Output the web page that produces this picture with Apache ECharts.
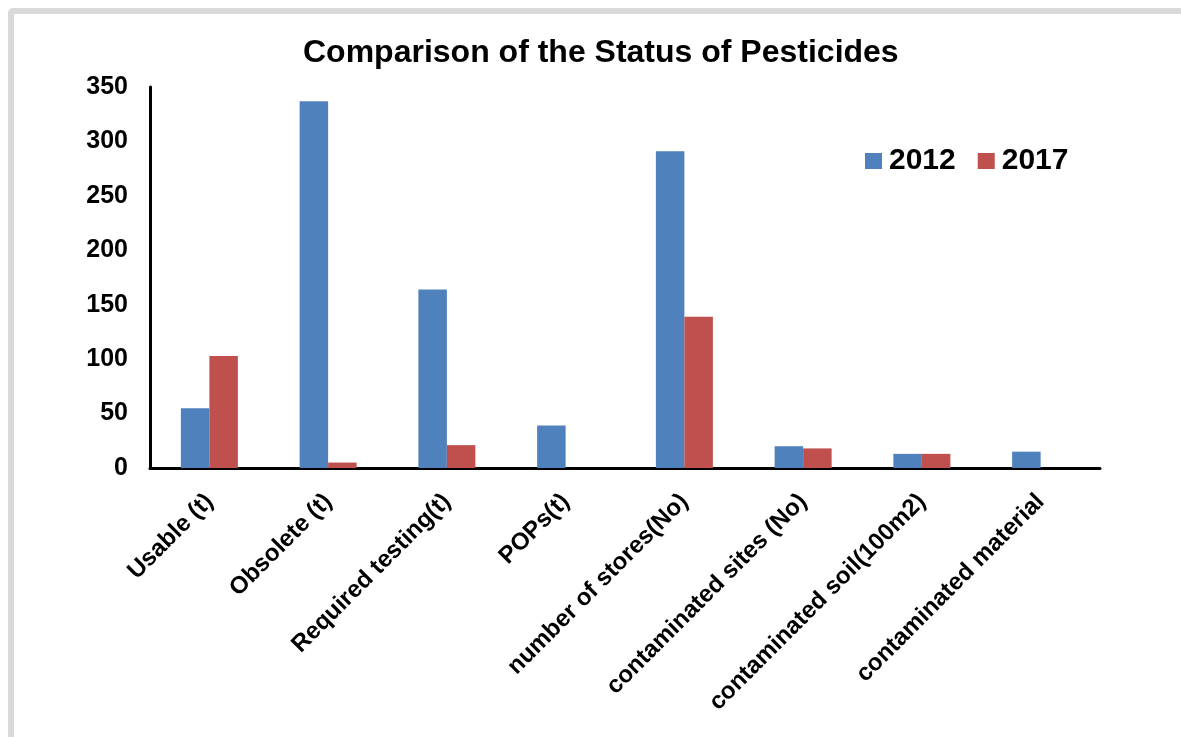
<!DOCTYPE html>
<html>
<head>
<meta charset="utf-8">
<title>Comparison of the Status of Pesticides</title>
<script src="https://cdn.jsdelivr.net/npm/echarts@6/dist/echarts.min.js"></script>
<style>
  html, body { margin: 0; padding: 0; background: #ffffff; }
  #frame {
    position: absolute; left: 8px; top: 8px; width: 1200px; height: 760px;
    border: 6px solid #d9d9d9; border-radius: 5px; box-sizing: border-box;
  }
  #chart { position: absolute; left: 0; top: 0; width: 1181px; height: 737px; }
</style>
</head>
<body>
<div id="frame"></div>
<div id="chart"></div>
<script>
// Pesticide inventory by category, 2012 vs 2017
const categories = [
  'Usable (t)', 'Obsolete (t)', 'Required testing(t)', 'POPs(t)',
  'number of stores(No)', 'contaminated sites (No)', 'contaminated soil(100m2)', 'contaminated material'
];
const values2012 = [55, 337, 164, 39, 291, 20, 13, 15];
const values2017 = [103, 5, 21, 0, 139, 18, 13, 0];
const yTicks = { min: 0, max: 350, interval: 50 };

const FONT = '"Liberation Sans", Arial, sans-serif';
const chart = echarts.init(document.getElementById('chart'), null, { renderer: 'canvas' });

chart.setOption({
  backgroundColor: 'transparent',
  animation: false,
  title: {
    text: 'Comparison of the Status of Pesticides',
    left: 303, top: 37, padding: 0,
    textStyle: { fontFamily: FONT, fontWeight: 'bold', fontSize: 32, color: '#000' }
  },
  legend: {
    data: ['2012', '2017'],
    left: 860, top: 141,
    itemWidth: 17, itemHeight: 16, itemGap: 22,
    icon: 'rect',
    textStyle: { fontFamily: FONT, fontWeight: 'bold', fontSize: 30, color: '#000', padding: [0, 0, 0, 2] }
  },
  grid: { left: 150, right: 81, top: 87, bottom: 269 },
  xAxis: {
    type: 'category',
    data: categories,
    axisLine: { lineStyle: { color: '#000', width: 3 } },
    axisTick: { show: false },
    axisLabel: {
      interval: 0, rotate: 45, margin: 30,
      fontFamily: FONT, fontWeight: 'bold', fontSize: 24, color: '#000'
    }
  },
  yAxis: {
    type: 'value',
    min: yTicks.min, max: yTicks.max, interval: yTicks.interval,
    axisLine: { show: true, lineStyle: { color: '#000', width: 3 } },
    axisTick: { show: false },
    splitLine: { show: false },
    axisLabel: { margin: 22, fontFamily: FONT, fontWeight: 'bold', fontSize: 25, color: '#000' }
  },
  series: [
    {
      name: '2012', type: 'bar', data: values2012,
      barWidth: '24%', barGap: '0%',
      itemStyle: { color: '#4f81bd' }
    },
    {
      name: '2017', type: 'bar', data: values2017,
      barWidth: '24%', barGap: '0%',
      itemStyle: { color: '#c0504d' }
    }
  ]
});
</script>
</body>
</html>
